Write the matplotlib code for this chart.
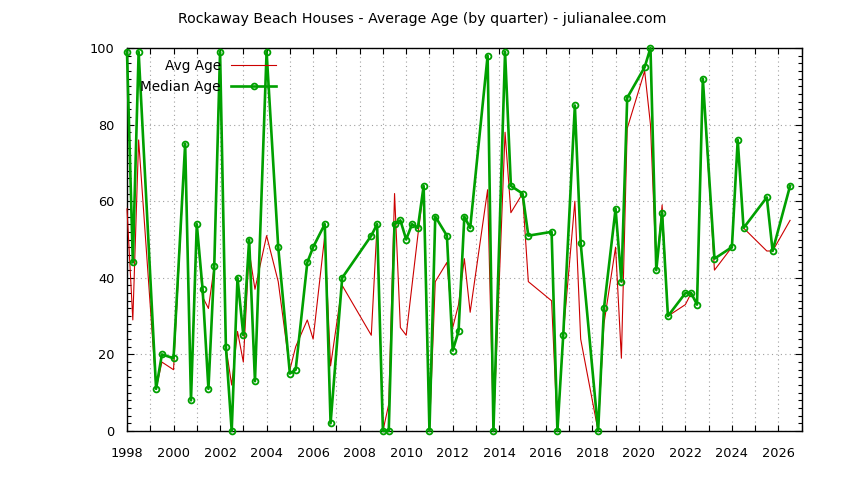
import matplotlib
matplotlib.use("Agg")
import matplotlib.pyplot as plt
from matplotlib.ticker import MultipleLocator

title = "Rockaway Beach Houses - Average Age (by quarter) - julianalee.com"

quarters = [1998.00, 1998.25, 1998.50, 1999.25, 1999.50, 2000.00, 2000.50, 2000.75,
            2001.00, 2001.25, 2001.50, 2001.75, 2002.00, 2002.25, 2002.50, 2002.75,
            2003.00, 2003.25, 2003.50, 2004.00, 2004.50, 2005.00, 2005.25, 2005.75,
            2006.00, 2006.50, 2006.75, 2007.25, 2008.50, 2008.75, 2009.00, 2009.25,
            2009.50, 2009.75, 2010.00, 2010.25, 2010.50, 2010.75, 2011.00, 2011.25,
            2011.75, 2012.00, 2012.25, 2012.50, 2012.75, 2013.50, 2013.75, 2014.25,
            2014.50, 2015.00, 2015.25, 2016.25, 2016.50, 2016.75, 2017.25, 2017.50,
            2018.25, 2018.50, 2019.00, 2019.25, 2019.50, 2020.25, 2020.50, 2020.75,
            2021.00, 2021.25, 2022.00, 2022.25, 2022.50, 2022.75, 2023.25, 2024.00,
            2024.25, 2024.50, 2025.50, 2025.75, 2026.50]

median_age = [99, 44, 99, 11, 20, 19, 75, 8,
              54, 37, 11, 43, 99, 22, 0, 40,
              25, 50, 13, 99, 48, 15, 16, 44,
              48, 54, 2, 40, 51, 54, 0, 0,
              54, 55, 50, 54, 53, 64, 0, 56,
              51, 21, 26, 56, 53, 98, 0, 99,
              64, 62, 51, 52, 0, 25, 85, 49,
              0, 32, 58, 39, 87, 95, 100, 42,
              57, 30, 36, 36, 33, 92, 45, 48,
              76, 53, 61, 47, 64]

avg_age = [58, 29, 76, 11, 18, 16, 75, 8,
           54, 35, 32, 43, 99, 22, 12, 26,
           18, 47, 37, 51, 39, 16, 22, 29,
           24, 51, 17, 38, 25, 54, 0, 7,
           62, 27, 25, 38, 51, 63, 0, 39,
           44, 27, 33, 45, 31, 63, 0, 78,
           57, 62, 39, 34, 0, 25, 60, 24,
           0, 28, 48, 19, 79, 94, 80, 42,
           59, 30, 33, 36, 33, 92, 42, 48,
           76, 53, 47, 47, 55]

x_major = 2
x_minor = 1
y_major = 20
y_minor = 2

RED = "#cc0000"
GREEN = "#00a000"
FS_TICK = 9.3
FS_LEG = 9.8
FS_TITLE = 10.2

plt.rcParams["font.family"] = ["DejaVu Sans"]
fig = plt.figure(figsize=(8.44, 4.80), dpi=100)
ax = fig.add_axes([127 / 844, 1 - 431 / 480, (801.7 - 127) / 844, (431 - 48) / 480])

ax.plot(quarters, avg_age, color=RED, lw=0.8, label="Avg Age", zorder=3, clip_on=False)
ax.plot(quarters, median_age, color=GREEN, lw=1.9, marker="o", ms=4.2, mfc="none",
        mec=GREEN, mew=1.3, label="Median Age", zorder=4, clip_on=False)

ax.set_xlim(1998, 2027)
ax.set_ylim(0, 100)
ax.xaxis.set_major_locator(MultipleLocator(x_major))
ax.xaxis.set_minor_locator(MultipleLocator(x_minor))
ax.yaxis.set_major_locator(MultipleLocator(y_major))
ax.yaxis.set_minor_locator(MultipleLocator(y_minor))

ax.grid(True, which="both", axis="x", color="#a0a0a0", lw=0.8, ls=(0, (1, 3)))
ax.grid(True, which="major", axis="y", color="#a0a0a0", lw=0.8, ls=(0, (1, 3)))
ax.set_axisbelow(True)

ax.tick_params(which="both", direction="in", top=True, right=True, labelsize=FS_TICK,
               colors="black", width=0.8)
ax.tick_params(axis="x", which="major", length=4, pad=11.5)
ax.tick_params(axis="x", which="minor", length=4)
ax.tick_params(axis="y", which="major", length=5, pad=9)
ax.tick_params(axis="y", which="minor", length=3)
for s in ax.spines.values():
    s.set_linewidth(1.0)
    s.set_color("black")

fig.text(0.5, 1 - 19 / 480, title, ha="center", va="center", fontsize=FS_TITLE)

leg = ax.legend(loc="upper left", bbox_to_anchor=(0.02, 0.972), frameon=False,
                markerfirst=False, fontsize=FS_LEG, handlelength=3.3, handletextpad=0.75,
                labelspacing=0.5, borderpad=0, borderaxespad=0)
try:
    for col in leg._legend_handle_box.get_children():
        col.align = "right"
except Exception:
    pass

fig.savefig("out.png", dpi=100)
